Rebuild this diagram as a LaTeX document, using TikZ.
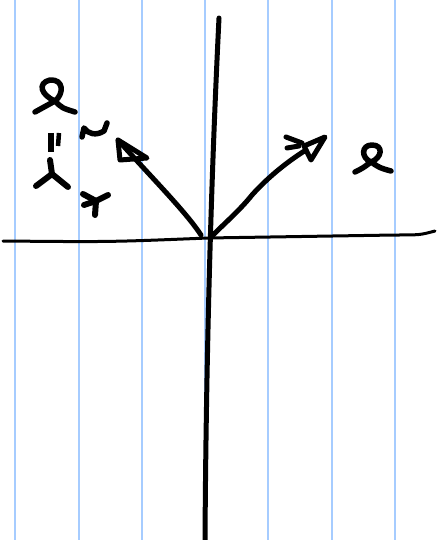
\documentclass[tikz,border=0pt]{standalone}
\usetikzlibrary{calc}
\definecolor{ruleblue}{RGB}{166,204,255}
\definecolor{inkblack}{RGB}{0,0,0}
\tikzset{
  ruling/.style={ruleblue, line width=2pt},
  axisline/.style={inkblack, line width=3pt, line cap=round, line join=round},
  ink/.style={inkblack, line width=5.5pt, line cap=round, line join=round},
}
\begin{document}
\begin{tikzpicture}[x=1pt, y=-1pt]
  \fill[white] (0,0) rectangle (441,540);
  \useasboundingbox (0,0) rectangle (441,540);
  % ruled paper
  \foreach \xx in {15,79,142,205,268,332,395}
    \draw[ruling] (\xx,0) -- (\xx,540);
  % axes
  \coordinate (origin) at (208,238);
  \coordinate (xl) at (3,241);
  \coordinate (xr) at (435,231);
  \coordinate (yt) at (219,18);
  \coordinate (yb) at (205,540);
  \draw[axisline] (xl) .. controls (110,242) .. (origin) -- (395,235) .. controls (420,235) .. (xr);
  \draw[axisline, line width=5pt] (yt) .. controls (210,200) and (206,380) .. (yb);
  % left arrow
  \coordinate (ltail) at (201,235);
  \coordinate (ltip) at (118,140);
  \draw[ink, line width=5pt] (ltail) .. controls (186,212) and (152,178) .. (ltip);
  \draw[ink, line width=5pt] (ltip) -- (120,160) -- (147,158) -- cycle;
  % right arrow
  \coordinate (rtail) at (212,236);
  \coordinate (rtip) at (306,150);
  \draw[ink, line width=5pt] (rtail) .. controls (226,222) and (240,210) .. (252,195)
    .. controls (270,175) and (290,160) .. (rtip);
  \draw[ink, line width=5pt] (304,146) -- (325,137) -- (311,160) -- cycle;
  \draw[ink, line width=5pt] (286,137) -- (302,143);
  \draw[ink, line width=5pt] (287,148) -- (299,146);
  % loop, top left
  \draw[ink] (35,112) .. controls (45,107) .. (55,101)
    .. controls (41,95) and (37,83) .. (50,80)
    .. controls (64,79) and (64,94) .. (55,101)
    .. controls (62,108) .. (75,112);
  % tilde
  \draw[ink] (82,137) -- (84,128) .. controls (88,134) and (96,136) .. (104,131) -- (107,123);
  % tick marks
  \draw[ink, line width=6pt, line cap=butt] (51,133) -- (51,152);
  \draw[ink, line width=4.5pt, line cap=butt] (59,133) -- (58,146);
  % lambda
  \draw[ink, line width=6pt] (50,160) -- (52,174) -- (36,186);
  \draw[ink, line width=6pt] (52,174) -- (68,187);
  % star
  \coordinate (star) at (96,201);
  \draw[ink, line width=6pt] (star) -- (83,194);
  \draw[ink, line width=6pt] (star) -- (108,195);
  \draw[ink, line width=6pt] (star) -- (84,205);
  \draw[ink, line width=6pt] (star) -- (95,215);
  % loop, right
  \draw[ink] (355,172) .. controls (363,168) .. (371,162)
    .. controls (361,158) and (361,145) .. (372,145)
    .. controls (384,145) and (382,158) .. (371,162)
    .. controls (380,168) .. (391,171);
\end{tikzpicture}
\end{document}
